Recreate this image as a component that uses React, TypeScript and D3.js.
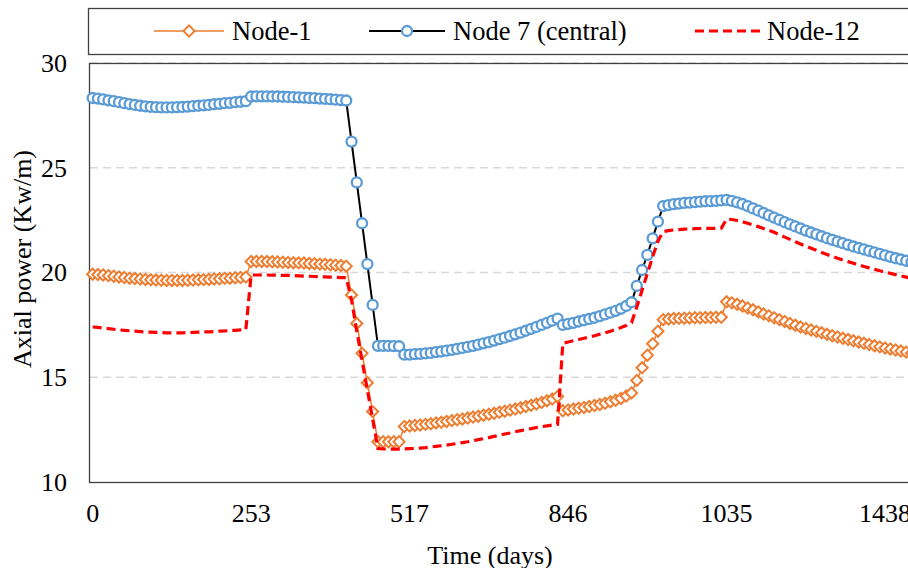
import React, { useRef, useEffect } from "react";
import * as d3 from "d3";

// x axis: one category per time step, a label every 30 steps
const xTickLabels = ["0", "253", "517", "846", "1035", "1438"];
const labelEvery = 30;
const yTicks = [10, 15, 20, 25, 30];
const gridValues = [15, 20, 25, 30];
const seriesNames = ["Node-1", "Node 7 (central)", "Node-12"];

const node1 = [
  19.92, 19.9, 19.88, 19.85, 19.82, 19.79, 19.76, 19.73, 19.71, 19.69, 19.67, 19.65, 19.64, 19.63, 19.62,
  19.62, 19.62, 19.62, 19.63, 19.64, 19.65, 19.66, 19.67, 19.69, 19.7, 19.72, 19.73, 19.75, 19.76, 19.78,
  20.52, 20.53, 20.53, 20.52, 20.51, 20.5, 20.49, 20.48, 20.47, 20.46, 20.45, 20.43, 20.42, 20.4, 20.39,
  20.37, 20.35, 20.33, 20.3,
  18.93, 17.57, 16.14, 14.74, 13.36, 11.92,
  11.92, 11.92, 11.92, 11.92,
  12.65, 12.67, 12.7, 12.72, 12.75, 12.78, 12.82, 12.85, 12.89, 12.93, 12.97, 13.01, 13.05, 13.1, 13.14,
  13.19, 13.23, 13.28, 13.33, 13.38, 13.43, 13.48, 13.54, 13.6, 13.66, 13.72, 13.8, 13.88, 13.96, 14.08,
  13.4, 13.44, 13.48, 13.52, 13.56, 13.6, 13.65, 13.7, 13.76, 13.83, 13.9, 13.99, 14.1, 14.25,
  14.85, 15.45, 16.05, 16.6, 17.2, 17.75,
  17.78, 17.8, 17.81, 17.82, 17.83, 17.84, 17.84, 17.85, 17.85, 17.86, 17.86, 18.6,
  18.55, 18.48, 18.4, 18.31, 18.22, 18.12, 18.02, 17.93, 17.84, 17.75, 17.66, 17.57, 17.48, 17.4, 17.33,
  17.26, 17.19, 17.12, 17.05, 16.98, 16.92, 16.86, 16.8, 16.74, 16.68, 16.62, 16.56, 16.5, 16.45, 16.4,
  16.35, 16.3, 16.25, 16.2, 16.15,
];

const node7 = [
  28.33, 28.3, 28.26, 28.22, 28.18, 28.13, 28.08, 28.04, 28.0, 27.96, 27.93, 27.91, 27.89, 27.88, 27.88,
  27.88, 27.89, 27.9, 27.92, 27.94, 27.96, 27.98, 28.0, 28.03, 28.05, 28.08, 28.1, 28.13, 28.15, 28.18,
  28.4, 28.41, 28.41, 28.41, 28.4, 28.4, 28.39, 28.38, 28.37, 28.36, 28.35, 28.33, 28.32, 28.3, 28.29,
  28.27, 28.25, 28.23, 28.21,
  26.25, 24.3, 22.35, 20.4, 18.45, 16.5,
  16.5, 16.5, 16.49, 16.48,
  16.08, 16.08, 16.1, 16.12, 16.14, 16.16, 16.2, 16.23, 16.27, 16.31, 16.35, 16.4, 16.45, 16.5, 16.56,
  16.62, 16.68, 16.75, 16.82, 16.89, 16.97, 17.05, 17.13, 17.22, 17.31, 17.4, 17.5, 17.6, 17.7, 17.8,
  17.5, 17.55, 17.6, 17.66, 17.72, 17.78, 17.84, 17.92, 18.0, 18.08, 18.17, 18.27, 18.4, 18.58,
  19.36, 20.12, 20.84, 21.63, 22.43, 23.17,
  23.22, 23.26, 23.29, 23.32, 23.34, 23.36, 23.38, 23.4, 23.41, 23.42, 23.44, 23.47,
  23.42, 23.35, 23.27, 23.17, 23.06, 22.95, 22.84, 22.73, 22.62, 22.51, 22.4, 22.3, 22.2, 22.1, 22.0,
  21.91, 21.82, 21.73, 21.64, 21.56, 21.48, 21.4, 21.32, 21.24, 21.17, 21.1, 21.03, 20.96, 20.89, 20.82,
  20.75, 20.68, 20.62, 20.56, 20.5,
];

const node12 = [
  17.4, 17.38, 17.35, 17.32, 17.29, 17.26, 17.24, 17.22, 17.2, 17.18, 17.16, 17.15, 17.14, 17.13, 17.12,
  17.12, 17.12, 17.12, 17.13, 17.14, 17.15, 17.16, 17.17, 17.18, 17.2, 17.21, 17.23, 17.24, 17.26, 17.28,
  19.88, 19.88, 19.88, 19.88, 19.87, 19.87, 19.86, 19.86, 19.85, 19.84, 19.83, 19.82, 19.81, 19.8, 19.79,
  19.78, 19.77, 19.76, 19.75,
  18.7, 17.2, 15.8, 14.4, 13.0, 11.6,
  11.58, 11.57, 11.57, 11.57,
  11.58, 11.59, 11.6, 11.62, 11.64, 11.67, 11.7, 11.73, 11.76, 11.8, 11.84, 11.88, 11.92, 11.97, 12.02,
  12.07, 12.12, 12.18, 12.23, 12.29, 12.34, 12.4, 12.45, 12.5, 12.55, 12.6, 12.64, 12.68, 12.72, 12.75,
  16.62, 16.68, 16.74, 16.8, 16.86, 16.92, 16.98, 17.05, 17.12, 17.2, 17.28, 17.37, 17.47, 17.6,
  18.35, 19.15, 19.95, 20.75, 21.5, 21.95,
  22.0, 22.03, 22.05, 22.07, 22.08, 22.09, 22.1, 22.1, 22.11, 22.11, 22.12, 22.55,
  22.53, 22.48, 22.42, 22.35, 22.27, 22.19, 22.1, 22.01, 21.92, 21.8, 21.69, 21.58, 21.47, 21.36, 21.26,
  21.16, 21.06, 20.96, 20.86, 20.77, 20.68, 20.6, 20.52, 20.44, 20.36, 20.29, 20.22, 20.15, 20.08, 20.02,
  19.96, 19.9, 19.84, 19.78, 19.72,
];

const ORANGE = "#ED7D31";
const BLUE = "#5B9BD5";
const RED = "#FF0000";
const FONT = "'Liberation Serif', 'Times New Roman', serif";

function App() {
  const svgRef = useRef<SVGSVGElement>(null);

  const svgWidth = 908;
  const svgHeight = 568;
  const plotLeft = 90;
  const plotTop = 63;
  const plotBottom = 482;
  const step = 5.283;

  useEffect(() => {
    const svg = d3.select(svgRef.current);
    svg.selectAll("*").remove();

    const idx = d3.range(node7.length);
    const x = d3
      .scaleBand<number>()
      .domain(idx)
      .range([plotLeft, plotLeft + step * idx.length]);
    const cx = (i: number) => (x(i) as number) + x.bandwidth() / 2;
    const y = d3.scaleLinear().domain([10, 30]).range([plotBottom, plotTop]);

    // Gridlines
    svg
      .append("g")
      .selectAll("line")
      .data(gridValues)
      .join("line")
      .attr("x1", plotLeft)
      .attr("x2", svgWidth + 10)
      .attr("y1", (d) => y(d))
      .attr("y2", (d) => y(d))
      .attr("stroke", "#d9d9d9")
      .attr("stroke-width", 1.5)
      .attr("stroke-dasharray", "8,5");

    // Plot frame
    svg
      .append("rect")
      .attr("x", plotLeft - 0.5)
      .attr("y", plotTop + 0.5)
      .attr("width", svgWidth)
      .attr("height", plotBottom - plotTop)
      .attr("fill", "none")
      .attr("stroke", "#404040")
      .attr("stroke-width", 1.3);

    // Axes
    const gy = svg
      .append("g")
      .attr("transform", `translate(${plotLeft},0)`)
      .call(d3.axisLeft(y).tickValues(yTicks).tickSize(0).tickPadding(23));
    gy.select(".domain").remove();

    const gx = svg
      .append("g")
      .attr("transform", `translate(0,${plotBottom})`)
      .call(
        d3
          .axisBottom(x)
          .tickValues(xTickLabels.map((_, k) => k * labelEvery))
          .tickFormat((_, k) => xTickLabels[k])
          .tickSize(0)
          .tickPadding(22)
      );
    gx.select(".domain").remove();

    svg
      .selectAll(".tick text")
      .attr("font-family", FONT)
      .attr("font-size", 26)
      .attr("fill", "#000");

    // Axis titles
    svg
      .append("text")
      .attr("x", 490)
      .attr("y", 564)
      .attr("text-anchor", "middle")
      .attr("font-family", FONT)
      .attr("font-size", 26)
      .text("Time (days)");
    svg
      .append("text")
      .attr("transform", "translate(31,259) rotate(-90)")
      .attr("text-anchor", "middle")
      .attr("font-family", FONT)
      .attr("font-size", 26)
      .text("Axial power (Kw/m)");

    const line = d3
      .line<number>()
      .x((_, i) => cx(i))
      .y((d) => y(d));
    const diamond = d3.symbol().type(d3.symbolSquare).size(62)();

    // Node-1
    svg
      .append("path")
      .attr("d", line(node1))
      .attr("fill", "none")
      .attr("stroke", ORANGE)
      .attr("stroke-width", 1.5);
    svg
      .append("g")
      .selectAll("path")
      .data(node1)
      .join("path")
      .attr("d", diamond)
      .attr("transform", (d, i) => `translate(${cx(i)},${y(d)}) rotate(45)`)
      .attr("fill", "#fff")
      .attr("stroke", ORANGE)
      .attr("stroke-width", 2);

    // Node 7 (central)
    svg
      .append("path")
      .attr("d", line(node7))
      .attr("fill", "none")
      .attr("stroke", "#000")
      .attr("stroke-width", 2);
    svg
      .append("g")
      .selectAll("circle")
      .data(node7)
      .join("circle")
      .attr("cx", (_, i) => cx(i))
      .attr("cy", (d) => y(d))
      .attr("r", 5)
      .attr("fill", "#fff")
      .attr("stroke", BLUE)
      .attr("stroke-width", 2.3);

    // Node-12
    svg
      .append("path")
      .attr("d", line(node12))
      .attr("fill", "none")
      .attr("stroke", RED)
      .attr("stroke-width", 3.2)
      .attr("stroke-dasharray", "9,5");

    // Legend
    const lg = svg.append("g");
    lg.append("rect")
      .attr("x", 88.5)
      .attr("y", 8.5)
      .attr("width", 830)
      .attr("height", 46)
      .attr("fill", "#fff")
      .attr("stroke", "#404040")
      .attr("stroke-width", 1.3);

    const ly = 31;
    const items = [
      { x0: 154, x1: 224, tx: 232 },
      { x0: 369, x1: 445, tx: 453 },
      { x0: 695, x1: 765, tx: 767 },
    ];
    const colors = [ORANGE, "#000", RED];
    items.forEach((it, k) => {
      lg.append("line")
        .attr("x1", it.x0)
        .attr("x2", it.x1)
        .attr("y1", ly)
        .attr("y2", ly)
        .attr("stroke", colors[k])
        .attr("stroke-width", k === 2 ? 3.2 : k === 1 ? 2 : 1.5)
        .attr("stroke-dasharray", k === 2 ? "9,5" : null);
      const mid = (it.x0 + it.x1) / 2;
      if (k === 0) {
        lg.append("path")
          .attr("d", diamond)
          .attr("transform", `translate(${mid},${ly}) rotate(45)`)
          .attr("fill", "#fff")
          .attr("stroke", ORANGE)
          .attr("stroke-width", 2);
      } else if (k === 1) {
        lg.append("circle")
          .attr("cx", mid)
          .attr("cy", ly)
          .attr("r", 5)
          .attr("fill", "#fff")
          .attr("stroke", BLUE)
          .attr("stroke-width", 2.3);
      }
      lg.append("text")
        .attr("x", it.tx)
        .attr("y", 40)
        .attr("font-family", FONT)
        .attr("font-size", 26.5)
        .text(seriesNames[k]);
    });
  }, []);

  return (
    <svg
      ref={svgRef}
      width={svgWidth}
      height={svgHeight}
      style={{ position: "absolute", left: 0, top: 0, background: "#fff" }}
    />
  );
}

export default App;
